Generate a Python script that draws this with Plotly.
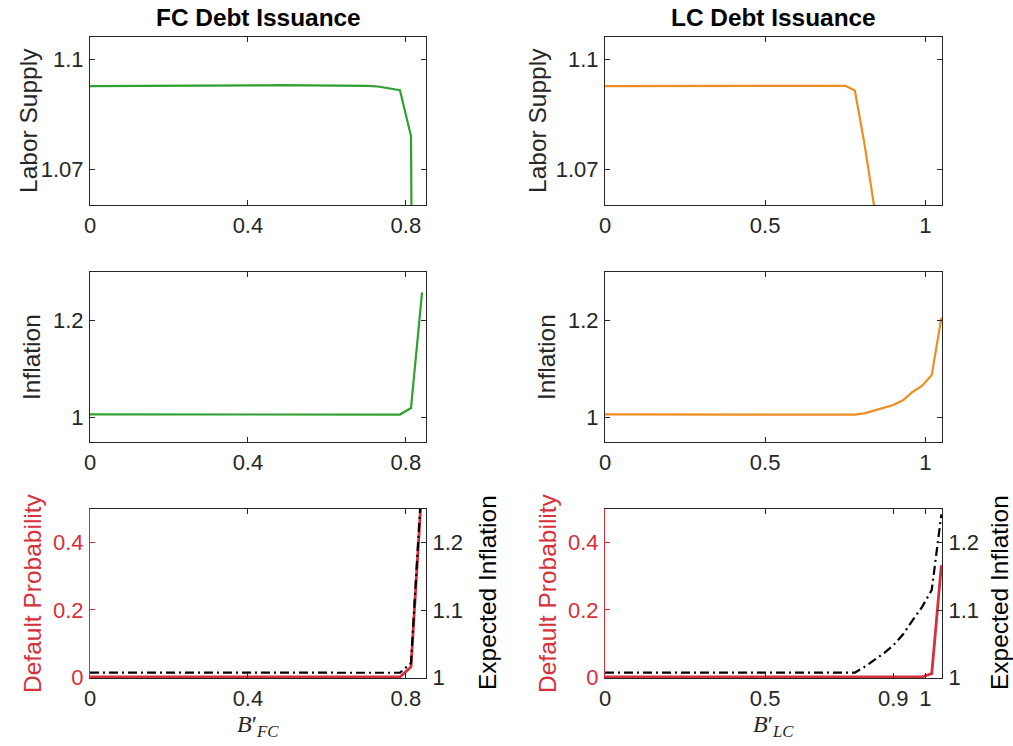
import plotly.graph_objects as go

# ---------------- data ----------------
x_fc = [0.000, 0.028, 0.056, 0.084, 0.112, 0.140, 0.168, 0.196, 0.224, 0.252,
        0.280, 0.308, 0.336, 0.364, 0.392, 0.420, 0.449, 0.477, 0.505, 0.533,
        0.561, 0.589, 0.617, 0.645, 0.673, 0.701, 0.729, 0.757, 0.785, 0.813, 0.841]
labor_fc = [1.0926, 1.0926, 1.0926, 1.0926, 1.0926, 1.0926, 1.0927, 1.0927, 1.0927, 1.0927,
            1.0927, 1.0927, 1.0928, 1.0928, 1.0928, 1.0928, 1.0928, 1.0929, 1.0929, 1.0929,
            1.0929, 1.0929, 1.0929, 1.0929, 1.0928, 1.0927, 1.0925, 1.0921, 1.0915, 1.0790, 0.6000]
infl_fc = [1.0068, 1.0068, 1.0068, 1.0068, 1.0068, 1.0068, 1.0068, 1.0068, 1.0068, 1.0068,
           1.0068, 1.0068, 1.0068, 1.0068, 1.0068, 1.0068, 1.0067, 1.0067, 1.0067, 1.0067,
           1.0067, 1.0067, 1.0066, 1.0066, 1.0066, 1.0066, 1.0065, 1.0065, 1.0065, 1.0200, 1.2580]
default_fc = [0, 0, 0, 0, 0, 0, 0, 0, 0, 0,
              0, 0, 0, 0, 0, 0, 0, 0, 0, 0,
              0, 0, 0, 0, 0, 0, 0, 0, 0, 0.030, 0.575]
expinfl_fc = [1.0074, 1.0074, 1.0074, 1.0074, 1.0074, 1.0074, 1.0074, 1.0074, 1.0074, 1.0074,
              1.0074, 1.0074, 1.0074, 1.0074, 1.0074, 1.0074, 1.0074, 1.0074, 1.0074, 1.0074,
              1.0074, 1.0074, 1.0074, 1.0073, 1.0073, 1.0073, 1.0073, 1.0073, 1.0073, 1.0217, 1.3000]

x_lc = [0.00, 0.03, 0.06, 0.09, 0.12, 0.15, 0.18, 0.21, 0.24, 0.27,
        0.30, 0.33, 0.36, 0.39, 0.42, 0.45, 0.48, 0.51, 0.54, 0.57,
        0.60, 0.63, 0.66, 0.69, 0.72, 0.75, 0.78, 0.81, 0.84, 0.87,
        0.90, 0.93, 0.96, 0.99, 1.02, 1.05]
labor_lc = [1.0926, 1.0926, 1.0926, 1.0926, 1.0926, 1.0926, 1.0926, 1.0926, 1.0927, 1.0927,
            1.0927, 1.0927, 1.0927, 1.0927, 1.0927, 1.0927, 1.0927, 1.0927, 1.0928, 1.0928,
            1.0928, 1.0928, 1.0928, 1.0928, 1.0928, 1.0927, 1.0914, 1.0768, 1.0600, 1.0450,
            1.0300, 1.0150, 1.0000, 0.9850, 0.9700, 0.9500]
infl_lc = [1.0068, 1.0068, 1.0068, 1.0068, 1.0068, 1.0068, 1.0068, 1.0068, 1.0068, 1.0068,
           1.0068, 1.0068, 1.0068, 1.0068, 1.0068, 1.0068, 1.0067, 1.0067, 1.0067, 1.0067,
           1.0066, 1.0066, 1.0066, 1.0065, 1.0065, 1.0064, 1.0062, 1.0090, 1.0150, 1.0210,
           1.0260, 1.0360, 1.0530, 1.0660, 1.0880, 1.2060]
default_lc = [0, 0, 0, 0, 0, 0, 0, 0, 0, 0,
              0, 0, 0, 0, 0, 0, 0, 0, 0, 0,
              0, 0, 0, 0, 0, 0, 0, 0, 0, 0,
              0, 0, 0, 0.0005, 0.010, 0.333]
expinfl_lc = [1.0074, 1.0074, 1.0074, 1.0074, 1.0074, 1.0074, 1.0074, 1.0074, 1.0074, 1.0074,
              1.0074, 1.0074, 1.0074, 1.0074, 1.0074, 1.0074, 1.0074, 1.0074, 1.0074, 1.0074,
              1.0074, 1.0074, 1.0074, 1.0074, 1.0074, 1.0074, 1.0074, 1.0160, 1.0260, 1.0360,
              1.0480, 1.0640, 1.0850, 1.1050, 1.1300, 1.2420]

titles = ["FC Debt Issuance", "LC Debt Issuance"]
xtick_fc = [0, 0.4, 0.8]
xtick_lc_top = [0, 0.5, 1]
xtick_lc_bot = [0, 0.5, 0.9, 1]

# ---------------- style ----------------
W, H = 1013, 746
GREEN = "#30a030"
ORANGE = "#ef8e1f"
RED = "#d6303a"
AX = "#262626"
FONT = "Liberation Sans, Arial, Helvetica, sans-serif"
TICKF = dict(family=FONT, size=22, color=AX)

def fx(p):
    return p / W

def fy(p):
    return 1 - p / H

colx = [[fx(90), fx(426)], [fx(605), fx(942)]]
rowy = [[fy(205), fy(37)], [fy(442), fy(272)], [fy(678), fy(509)]]

fig = go.Figure()

fig.add_trace(go.Scatter(x=x_fc, y=labor_fc, mode="lines", line=dict(color=GREEN, width=2.2),
                         xaxis="x", yaxis="y", showlegend=False))
fig.add_trace(go.Scatter(x=x_lc, y=labor_lc, mode="lines", line=dict(color=ORANGE, width=2.2),
                         xaxis="x2", yaxis="y2", showlegend=False))
fig.add_trace(go.Scatter(x=x_fc, y=infl_fc, mode="lines", line=dict(color=GREEN, width=2.2),
                         xaxis="x3", yaxis="y3", showlegend=False))
fig.add_trace(go.Scatter(x=x_lc, y=infl_lc, mode="lines", line=dict(color=ORANGE, width=2.2),
                         xaxis="x4", yaxis="y4", showlegend=False))
fig.add_trace(go.Scatter(x=x_fc, y=default_fc, mode="lines", line=dict(color=RED, width=2.8),
                         xaxis="x5", yaxis="y5", showlegend=False))
fig.add_trace(go.Scatter(x=x_fc, y=expinfl_fc, mode="lines",
                         line=dict(color="black", width=2.2, dash="9px,4px,2px,4px"),
                         xaxis="x5", yaxis="y6", showlegend=False))
fig.add_trace(go.Scatter(x=x_lc, y=default_lc, mode="lines", line=dict(color=RED, width=2.8),
                         xaxis="x6", yaxis="y7", showlegend=False))
fig.add_trace(go.Scatter(x=x_lc, y=expinfl_lc, mode="lines",
                         line=dict(color="black", width=2.2, dash="9px,4px,2px,4px"),
                         xaxis="x6", yaxis="y8", showlegend=False))

def xax(dom, rng, ticks, anchor):
    return dict(domain=dom, range=rng, tickvals=ticks, ticktext=[f"{t:g}" for t in ticks],
                anchor=anchor, showline=True, linecolor=AX, linewidth=1, mirror="ticks",
                ticks="inside", ticklen=5, tickcolor=AX, tickwidth=1, showgrid=False,
                zeroline=False, tickfont=TICKF, ticklabelstandoff=1)

def yax(dom, rng, ticks, anchor, color=AX, mirror="ticks", side="left", overlaying=None):
    d = dict(domain=dom, range=rng, tickvals=ticks, ticktext=[f"{t:g}" for t in ticks],
             anchor=anchor, showline=True, linecolor=color, linewidth=1, mirror=mirror,
             ticks="inside", ticklen=5, tickcolor=color, tickwidth=1, showgrid=False,
             zeroline=False, tickfont=dict(family=FONT, size=22, color=color), side=side,
             ticklabelstandoff=1)
    if overlaying:
        d["overlaying"] = overlaying
    return d

lay = {}
lay["xaxis"] = xax(colx[0], [0, 0.851], xtick_fc, "y")
lay["yaxis"] = yax(rowy[0], [1.0602, 1.106], [1.07, 1.1], "x")
lay["xaxis2"] = xax(colx[1], [0, 1.052], xtick_lc_top, "y2")
lay["yaxis2"] = yax(rowy[0], [1.0602, 1.106], [1.07, 1.1], "x2")
lay["xaxis3"] = xax(colx[0], [0, 0.851], xtick_fc, "y3")
lay["yaxis3"] = yax(rowy[1], [0.95, 1.3], [1, 1.2], "x3")
lay["xaxis4"] = xax(colx[1], [0, 1.052], xtick_lc_top, "y4")
lay["yaxis4"] = yax(rowy[1], [0.95, 1.3], [1, 1.2], "x4")
lay["xaxis5"] = xax(colx[0], [0, 0.851], xtick_fc, "y5")
lay["yaxis5"] = yax(rowy[2], [-0.003, 0.5], [0, 0.2, 0.4], "x5", color=RED, mirror=False)
lay["yaxis6"] = yax(rowy[2], [0.9995, 1.25], [1, 1.1, 1.2], "x5", color=AX, mirror=False,
                    side="right", overlaying="y5")
lay["xaxis6"] = xax(colx[1], [0, 1.052], xtick_lc_bot, "y7")
lay["yaxis7"] = yax(rowy[2], [-0.003, 0.5], [0, 0.2, 0.4], "x6", color=RED, mirror=False)
lay["yaxis8"] = yax(rowy[2], [0.9995, 1.25], [1, 1.1, 1.2], "x6", color=AX, mirror=False,
                    side="right", overlaying="y7")

annotations = []
def ann(text, x, y, size=24.5, color=AX, angle=0, bold=False, family=FONT):
    annotations.append(dict(text=f"<b>{text}</b>" if bold else text, x=fx(x), y=fy(y),
                            xref="paper", yref="paper", showarrow=False, textangle=angle,
                            xanchor="center", yanchor="middle", borderpad=0,
                            font=dict(family=family, size=size, color=color)))

ann(titles[0], 258, 17, size=24.4, color="black", bold=True)
ann(titles[1], 773, 17, size=24.4, color="black", bold=True)
ann("Labor Supply", 28, 121, angle=-90)
ann("Labor Supply", 537, 121, angle=-90)
ann("Inflation", 31, 357, angle=-90)
ann("Inflation", 546, 357, angle=-90)
ann("Default Probability", 32, 593, angle=-90, color=RED)
ann("Default Probability", 547, 593, angle=-90, color=RED)
ann("Expected Inflation", 487, 593, angle=-90, color="black")
ann("Expected Inflation", 999, 593, angle=-90, color="black")
ann("<i>B</i>′<sub><i>FC</i></sub>", 258, 726, size=24, family="Liberation Serif, Times New Roman, serif")
ann("<i>B</i>′<sub><i>LC</i></sub>", 773, 726, size=24, family="Liberation Serif, Times New Roman, serif")

fig.update_layout(width=W, height=H, margin=dict(l=0, r=0, t=0, b=0, autoexpand=False),
                  paper_bgcolor="white", plot_bgcolor="white", annotations=annotations,
                  showlegend=False, **lay)

fig.write_html("out.html", config={"displayModeBar": False},
               post_script="document.body.style.margin='0px';document.body.style.overflow='hidden';")
